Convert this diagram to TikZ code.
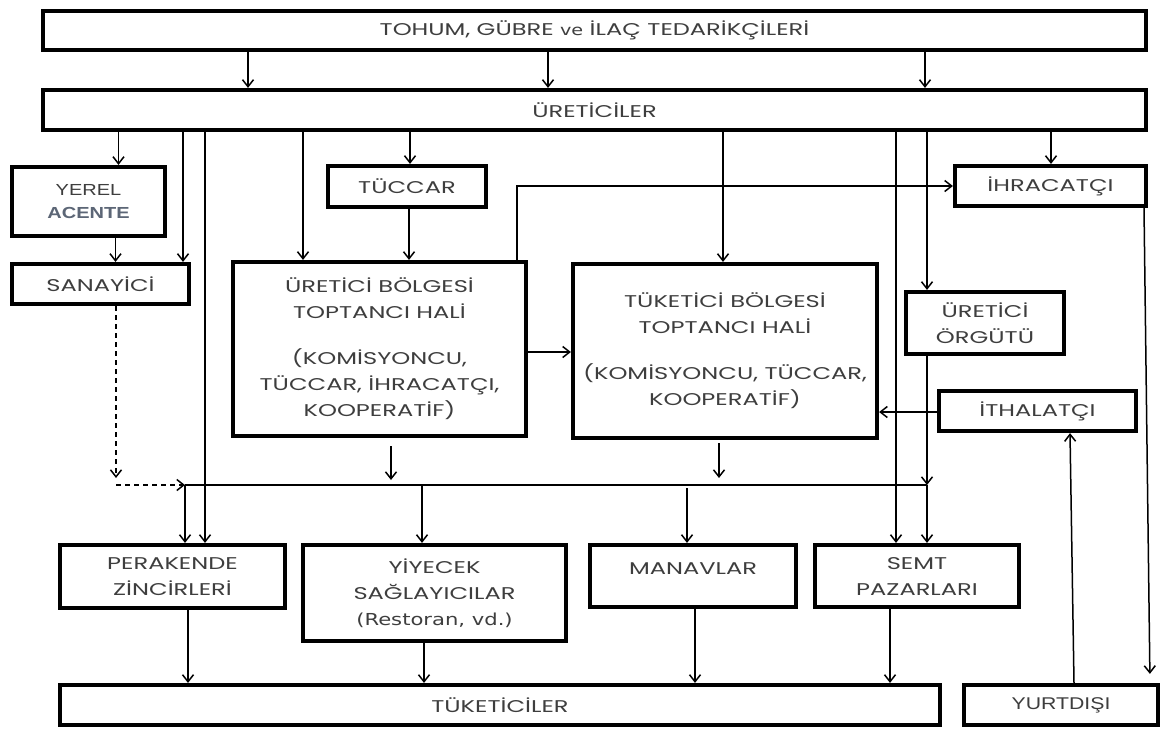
\documentclass[tikz,border=0pt]{standalone}
\usepackage{fontspec}
\setmainfont{Poppins}[FakeStretch=1.42]
\newfontfamily\verdfont{DejaVu Sans}[FakeStretch=1.28]
\newfontfamily\arialfont{Liberation Sans}[FakeStretch=1.25]
\usetikzlibrary{arrows.meta,calc}
\definecolor{txt}{RGB}{62,62,62}
\definecolor{slate}{RGB}{92,102,118}
\begin{document}
\begin{tikzpicture}[x=1pt,y=-1pt,
  box/.style={draw, line width=4.2pt, rectangle, inner sep=0pt, align=center,
              font=\fontsize{17}{26}\selectfont, text=txt},
  flow/.style={line width=1.5pt, -{Straight Barb[length=7pt,width=11pt]}},
  link/.style={line width=1.5pt},
  dashflow/.style={flow, dash pattern=on 5pt off 4pt}]
\useasboundingbox (0,0) rectangle (1162,729);
\fill[white] (0,0) rectangle (1162,729);

% ---- boxes ----
\node[box, minimum width=1103pt, minimum height=39pt] (top) at (594.5,30.5)
  {TOHUM, GÜBRE {\verdfont\fontsize{15}{26}\selectfont ve} İLAÇ TEDARİKÇİLERİ};
\node[box, minimum width=1103pt, minimum height=40pt] (ureticiler) at (594.5,110) {ÜRETİCİLER};
\node[box, minimum width=153pt, minimum height=69pt, font=\arialfont\fontsize{16}{23}\selectfont] (yerel) at (88.5,201.5)
  {YEREL\\\textcolor{slate}{\bfseries ACENTE}};
\node[box, minimum width=177pt, minimum height=40pt] (sanayici) at (100.5,284) {SANAYİCİ};
\node[box, minimum width=158pt, minimum height=41pt] (tuccar) at (407,186.5) {TÜCCAR};
\node[box, minimum width=293pt, minimum height=174pt] (ubolge) at (379.5,349)
  {ÜRETİCİ BÖLGESİ\\TOPTANCI HALİ\\[20pt](KOMİSYONCU,\\TÜCCAR, İHRACATÇI,\\KOOPERATİF)};
\node[box, minimum width=304pt, minimum height=174pt] (tbolge) at (725,351)
  {TÜKETİCİ BÖLGESİ\\TOPTANCI HALİ\\[20pt](KOMİSYONCU, TÜCCAR,\\KOOPERATİF)};
\node[box, minimum width=191pt, minimum height=40pt] (ihracat) at (1050.5,186) {İHRACATÇI};
\node[box, minimum width=158pt, minimum height=62pt] (orgut) at (985,323) {ÜRETİCİ\\ÖRGÜTÜ};
\node[box, minimum width=197pt, minimum height=40pt] (ithalat) at (1037.5,411) {İTHALATÇI};
\node[box, minimum width=225pt, minimum height=63pt] (perakende) at (172.5,576.5) {PERAKENDE\\ZİNCİRLERİ};
\node[box, minimum width=263pt, minimum height=96pt] (yiyecek) at (434.5,593)
  {YİYECEK\\SAĞLAYICILAR\\{\verdfont\fontsize{16.5}{26}\selectfont (Restoran, vd.)}};
\node[box, minimum width=206pt, minimum height=62pt] (manav) at (693,576)
  {\raisebox{7pt}[\height][\depth]{MANAVLAR}};
\node[box, minimum width=204pt, minimum height=62pt] (semt) at (917,576) {SEMT\\PAZARLARI};
\node[box, minimum width=880pt, minimum height=40pt] (tuketici) at (500,705) {TÜKETİCİLER};
\node[box, minimum width=194pt, minimum height=40pt, font=\arialfont\fontsize{17}{26}\selectfont] (yurtdisi) at (1061,705) {YURTDIŞI};

% ---- junction points of the distribution line ----
\coordinate (busL) at (185,485);
\coordinate (busR) at (927,485);
\coordinate (dashc) at (116,485);

% ---- suppliers to producers ----
\foreach \x in {248,548,925}
  \draw[flow] (top.south -| \x,0) -- (ureticiler.north -| \x,0);

% ---- producers to the channels ----
\draw[flow] (ureticiler.south -| 118.5,0) -- (yerel.north -| 118.5,0);
\draw[flow] (ureticiler.south -| 183,0) -- (sanayici.north -| 183,0);
\draw[flow] (ureticiler.south -| 205,0) -- (perakende.north -| 205,0);
\draw[flow] (ureticiler.south -| 303,0) -- (ubolge.north -| 303,0);
\draw[flow] (ureticiler.south -| 410,0) -- (tuccar.north -| 410,0);
\draw[flow] (ureticiler.south -| 723,0) -- (tbolge.north -| 723,0);
\draw[flow] (ureticiler.south -| 896,0) -- (semt.north -| 896,0);
\draw[flow] (ureticiler.south -| 927,0) -- (orgut.north -| 927,0);
\draw[flow] (ureticiler.south -| 1051,0) -- (ihracat.north -| 1051,0);

% ---- intermediaries ----
\draw[flow] (yerel.south -| 115.5,0) -- (sanayici.north -| 115.5,0);
\draw[flow] (tuccar.south -| 409,0) -- (ubolge.north -| 409,0);
\draw[flow] (ubolge.north -| 517,0) |- (ihracat.west);
\draw[flow] (ubolge.east |- 0,352) -- (tbolge.west |- 0,352);
\draw[flow] (ithalat.west |- 0,412) -- (tbolge.east |- 0,412);
\draw[flow] (yurtdisi.north -| 1074,0) -- (ithalat.south -| 1070,0);
\draw[flow, shorten >=9pt] (ihracat.south -| 1144,0) -- (yurtdisi.north -| 1150,0);

% ---- industry (dashed) ----
\draw[dashflow, shorten >=7pt] (sanayici.south -| dashc) -- (dashc);
\draw[dashflow] (dashc) -- (busL);

% ---- distribution line ----
\draw[link] (busL) -- (busR);
\draw[flow, shorten <=8pt, shorten >=5pt] (ubolge.south -| 391,0) -- (busL -| 391,0);
\draw[flow, shorten <=3pt, shorten >=7pt] (tbolge.south -| 719,0) -- (busL -| 719,0);
\draw[flow] (orgut.south -| busR) -- (busR);
\draw[flow] (busR) -- (semt.north -| busR);
\draw[flow] (busL) -- (perakende.north -| busL);
\draw[flow] (busL -| 422,0) -- (yiyecek.north -| 422,0);
\draw[flow, shorten <=3pt] (busL -| 687,0) -- (manav.north -| 687,0);

% ---- retail to consumers ----
\draw[flow] (perakende.south -| 188,0) -- (tuketici.north -| 188,0);
\draw[flow] (yiyecek.south -| 424,0) -- (tuketici.north -| 424,0);
\draw[flow] (manav.south -| 695,0) -- (tuketici.north -| 695,0);
\draw[flow] (semt.south -| 890,0) -- (tuketici.north -| 890,0);
\end{tikzpicture}
\end{document}
